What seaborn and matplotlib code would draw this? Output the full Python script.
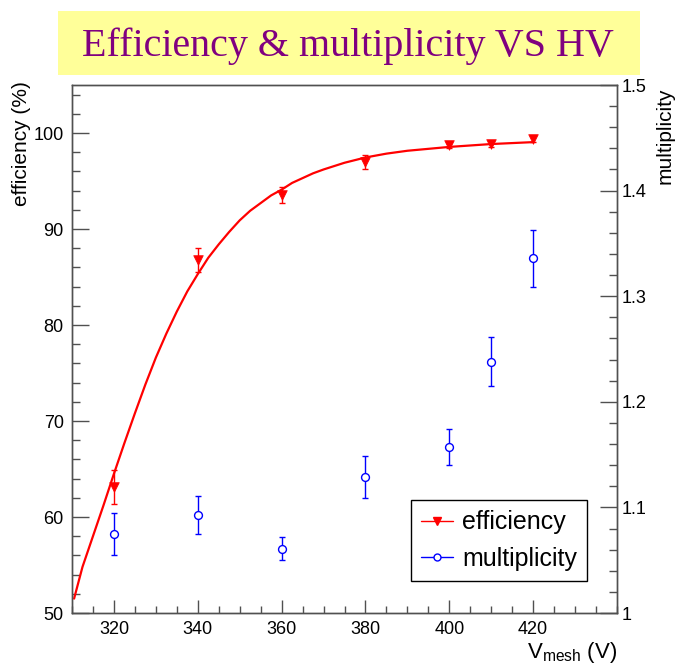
import numpy as np
import pandas as pd
import matplotlib
matplotlib.use("Agg")
import matplotlib.pyplot as plt
import seaborn as sns
from matplotlib.lines import Line2D
from matplotlib.patches import Rectangle
from matplotlib.ticker import MultipleLocator

# ---------------- data ----------------
hv = [320, 340, 360, 380, 400, 410, 420]
efficiency = [63.15, 86.8, 93.55, 97.0, 98.7, 98.85, 99.35]
efficiency_err = [1.77, 1.25, 0.87, 0.7, 0.3, 0.3, 0.3]
multiplicity = [1.075, 1.093, 1.061, 1.129, 1.157, 1.238, 1.336]
multiplicity_err = [0.020, 0.018, 0.011, 0.020, 0.017, 0.023, 0.027]
fit_hv = [310.5, 312.5, 315, 317.5, 320, 322.5, 325, 327.5, 330, 332.5, 335,
          337.5, 340, 342.5, 345, 347.5, 350, 352.5, 355, 357.5, 360, 362.5,
          365, 367.5, 370, 375, 380, 385, 390, 400, 410, 420]
fit_eff = [51.5, 54.8, 58.0, 61.2, 64.5, 67.7, 70.8, 73.8, 76.6, 79.1, 81.4,
           83.5, 85.3, 87.0, 88.4, 89.7, 90.9, 91.9, 92.7, 93.5, 94.1, 94.8,
           95.3, 95.8, 96.2, 96.9, 97.45, 97.85, 98.15, 98.55, 98.85, 99.05]
title = "Efficiency & multiplicity VS HV"
series_names = ["efficiency", "multiplicity"]

df = pd.DataFrame({"hv": hv, "eff": efficiency, "eff_err": efficiency_err,
                   "mult": multiplicity, "mult_err": multiplicity_err})
fit_df = pd.DataFrame({"hv": fit_hv, "eff": fit_eff})

# ---------------- style ----------------
sns.set_style("white")
plt.rcParams["font.family"] = ["Liberation Sans", "DejaVu Sans"]
plt.rcParams["mathtext.fontset"] = "custom"
plt.rcParams["mathtext.rm"] = "Liberation Sans"
plt.rcParams["mathtext.it"] = "Liberation Sans"
plt.rcParams["text.color"] = "black"
plt.rcParams["axes.labelcolor"] = "black"
plt.rcParams["xtick.labelcolor"] = "black"
plt.rcParams["ytick.labelcolor"] = "black"

W, H = 681, 669
fig = plt.figure(figsize=(W / 100, H / 100), dpi=100)
fig.patch.set_facecolor("white")

# axes frame in pixel coordinates
x0, x1, ytop, ybot = 72, 617, 85, 613
ax = fig.add_axes([x0 / W, (H - ybot) / H, (x1 - x0) / W, (ybot - ytop) / H])
ax2 = ax.twinx()

RED = "#ff0000"
BLUE = "#0000ff"
FRAME = "#505050"

# fitted curve
sns.lineplot(data=fit_df, x="hv", y="eff", ax=ax, color=RED, lw=1.6,
             legend=False, sort=True)
# efficiency points
ax.errorbar(df["hv"], df["eff"], yerr=df["eff_err"], fmt="none",
            ecolor=RED, elinewidth=1.0, capsize=2.2, capthick=1.0, zorder=3)
sns.scatterplot(data=df, x="hv", y="eff", ax=ax, marker="v", s=48,
                color=RED, edgecolor=RED, linewidth=0.5, zorder=4, legend=False)

# multiplicity points
ax2.errorbar(df["hv"], df["mult"], yerr=df["mult_err"], fmt="none",
             ecolor=BLUE, elinewidth=1.0, capsize=2.2, capthick=1.0, zorder=3)
sns.scatterplot(data=df, x="hv", y="mult", ax=ax2, marker="o", s=32,
                facecolor="white", edgecolor=BLUE, linewidth=1.0, zorder=4,
                legend=False)

# limits
ax.set_xlim(310, 440)
ax.set_ylim(50, 105)
ax2.set_ylim(1.0, 1.5)

# ticks
ax.xaxis.set_major_locator(MultipleLocator(20))
ax.xaxis.set_minor_locator(MultipleLocator(5))
ax.yaxis.set_major_locator(MultipleLocator(10))
ax.yaxis.set_minor_locator(MultipleLocator(2))
ax2.yaxis.set_major_locator(MultipleLocator(0.1))
ax2.yaxis.set_minor_locator(MultipleLocator(0.02))
ax.set_xticks([320, 340, 360, 380, 400, 420])

ax.tick_params(axis="x", which="major", direction="in", length=9.5, width=1.0,
               color=FRAME, labelsize=13, labelcolor="black", pad=6,
               top=False, bottom=True)
ax.tick_params(axis="x", which="minor", direction="in", length=5, width=1.0,
               color=FRAME, top=False, bottom=True)
ax.tick_params(axis="y", which="major", direction="in", length=12, width=1.0,
               color=FRAME, labelsize=13, labelcolor="black", pad=6,
               left=True, right=False)
ax.tick_params(axis="y", which="minor", direction="in", length=6, width=1.0,
               color=FRAME, left=True, right=False)
ax2.tick_params(axis="y", which="major", direction="in", length=12, width=1.0,
                color=FRAME, labelsize=13, labelcolor="black", pad=3,
                right=True, left=False)
ax2.tick_params(axis="y", which="minor", direction="in", length=6, width=1.0,
                color=FRAME, right=True, left=False)
ax2.yaxis.set_major_formatter(matplotlib.ticker.FuncFormatter(
    lambda v, p: ("%g" % round(v, 2))))

for a in (ax, ax2):
    for s in a.spines.values():
        s.set_color(FRAME)
        s.set_linewidth(1.0)

# axis labels
ax.set_xlabel(r"V$_{\mathrm{mesh}}$ (V)", fontsize=16, loc="right", color="black")
ax.xaxis.set_label_coords(1.0, -0.052)
ax.xaxis.label.set(ha="right", va="top")

ax.set_ylabel("efficiency (%)", fontsize=15, loc="top", color="black")
ax.yaxis.label.set(rotation=90, rotation_mode="anchor", ha="right", va="bottom")
ax.yaxis.set_label_coords(-0.075, 1.008)

ax2.set_ylabel("multiplicity", fontsize=15, loc="top", color="black")
ax2.yaxis.label.set(rotation=90, rotation_mode="anchor", ha="right", va="center")
ax2.yaxis.set_label_coords((665 - x0) / (x1 - x0), 0.995)

ax.grid(False)
ax2.grid(False)

# legend
handles = [Line2D([], [], color=RED, lw=1.0, marker="v", markersize=6,
                  markerfacecolor=RED, markeredgecolor=RED),
           Line2D([], [], color=BLUE, lw=1.0, marker="o", markersize=5,
                  markerfacecolor="white", markeredgecolor=BLUE)]
leg = ax.legend(handles, series_names, loc="center",
                bbox_to_anchor=((408 + 590) / 2 / W, 1 - (499 + 582) / 2 / H),
                bbox_transform=fig.transFigure, fontsize=18, frameon=True,
                fancybox=False, framealpha=1, edgecolor="black",
                handlelength=1.3, handletextpad=0.35, borderpad=0.4,
                labelspacing=0.5, borderaxespad=0)
leg.get_frame().set_linewidth(1.0)
leg.set_zorder(10)
for t in leg.get_texts():
    t.set_color("black")

# title box
fig.patches.append(Rectangle((58 / W, 1 - 75 / H), 582 / W, 64 / H,
                             transform=fig.transFigure, facecolor="#ffff99",
                             edgecolor="none", zorder=0))
fig.text(347.5 / W, 1 - 46 / H, title, family=["Liberation Serif", "DejaVu Serif"],
         fontsize=28.8, color="#800080", ha="center", va="center")

fig.savefig("out.png", dpi=100)
